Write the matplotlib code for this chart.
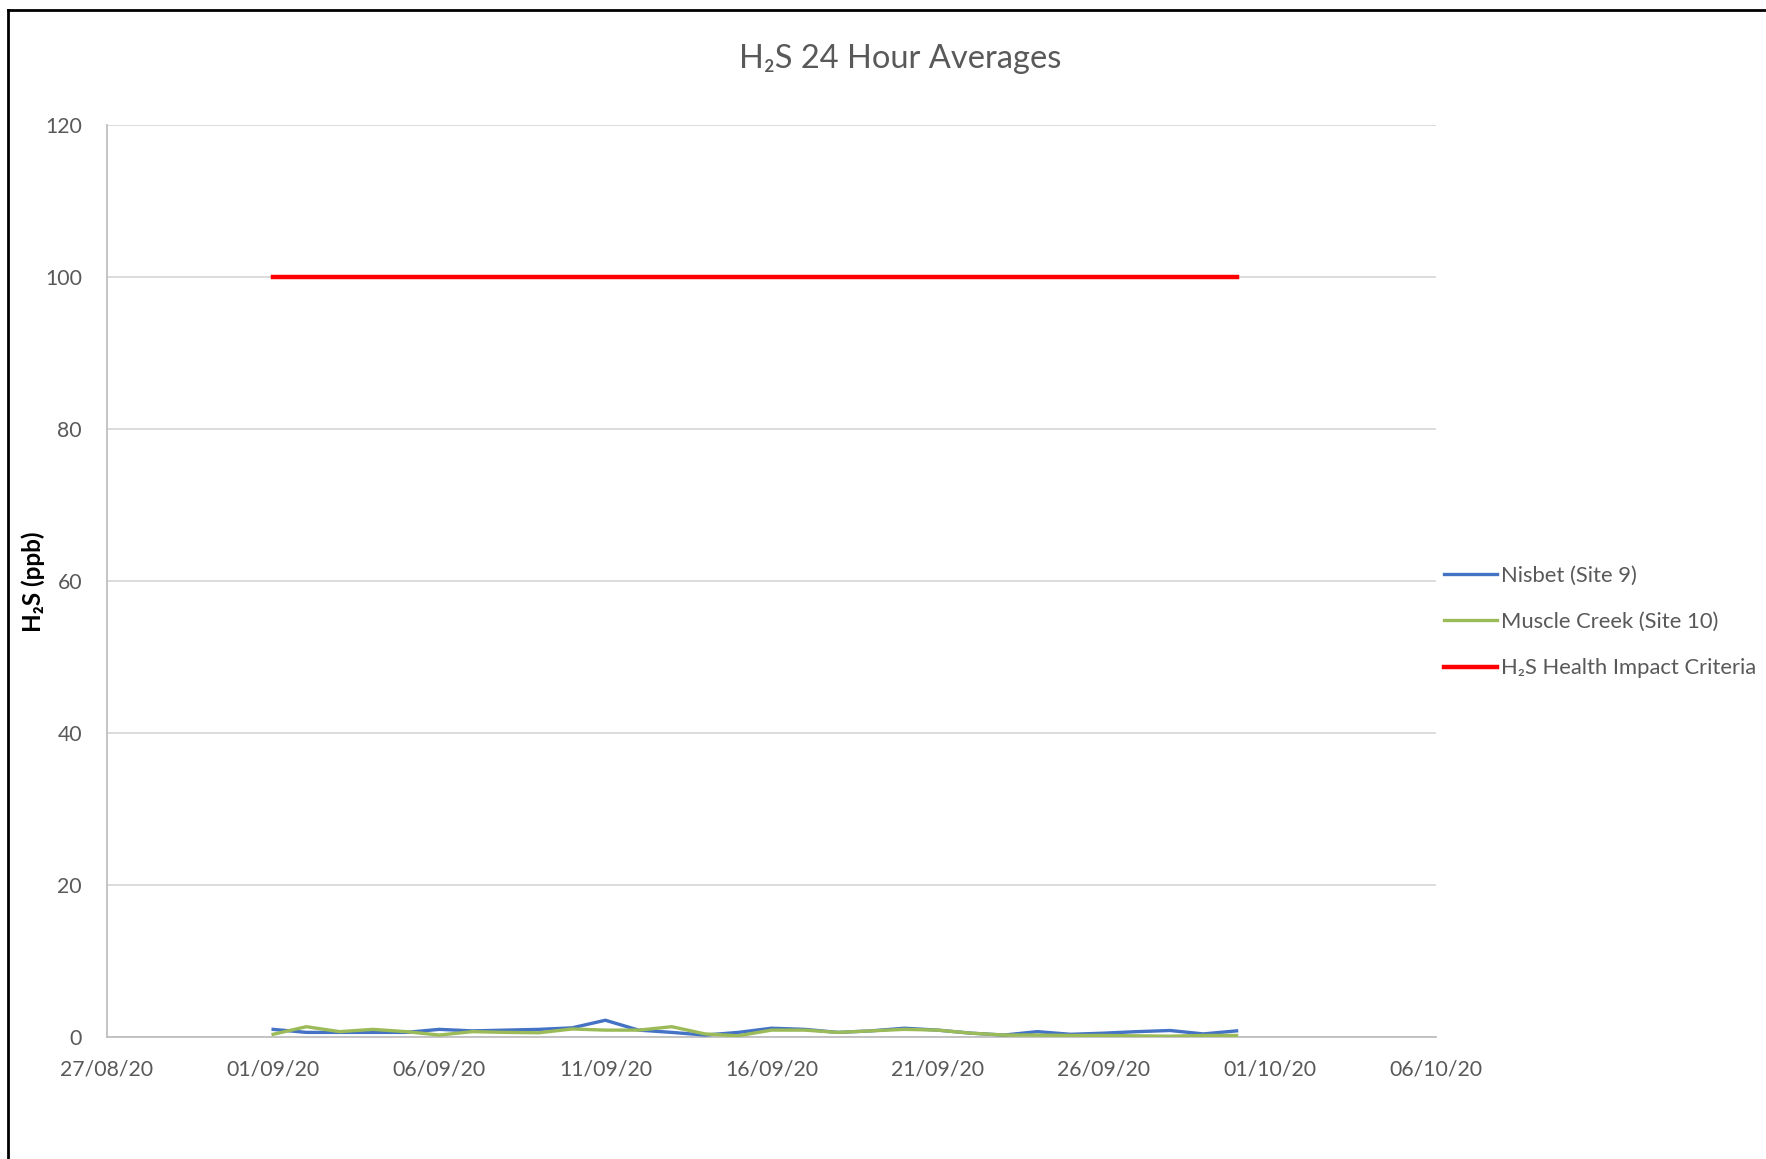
import numpy as np
import pandas as pd
import matplotlib
matplotlib.use("Agg")
import matplotlib.pyplot as plt
import matplotlib.dates as mdates
from matplotlib.lines import Line2D

plt.rcParams['font.family'] = ['Lato', 'DejaVu Sans']

# Tageswerte September 2020
dates = pd.date_range("2020-09-01", "2020-09-30", freq="D")
nisbet = [1.0, 0.6, 0.6, 0.6, 0.6, 1.0, 0.8, 0.9, 1.0, 1.2,
          2.2, 0.9, 0.6, 0.25, 0.6, 1.15, 1.0, 0.6, 0.8, 1.15,
          0.9, 0.5, 0.25, 0.7, 0.35, 0.5, 0.7, 0.85, 0.4, 0.8]
muscle_creek = [0.35, 1.35, 0.7, 1.0, 0.7, 0.25, 0.7, 0.6, 0.55, 1.05,
                0.9, 0.9, 1.35, 0.4, 0.15, 0.9, 0.9, 0.6, 0.8, 1.0,
                0.9, 0.5, 0.25, 0.25, 0.2, 0.2, 0.15, 0.1, 0.2, 0.2]
criteria = [100] * len(dates)

x_start = pd.Timestamp("2020-08-27")
x_end = pd.Timestamp("2020-10-06")
y_ticks = [0, 20, 40, 60, 80, 100, 120]

grey_txt = '#595959'
fig = plt.figure(figsize=(17.66, 11.59), dpi=100)
ax = fig.add_axes([0.0606, 0.1053, 0.8131 - 0.0606, 0.8921 - 0.1053])

ax.plot(dates, nisbet, color='#4472C4', lw=2.4, label='Nisbet (Site 9)', zorder=3)
ax.plot(dates, muscle_creek, color='#9BBB59', lw=2.4, label='Muscle Creek (Site 10)', zorder=3)
ax.plot(dates, criteria, color='#FF0000', lw=3.2, label='H\u2082S Health Impact Criteria', zorder=3)

ax.set_xlim(x_start, x_end)
ax.set_ylim(0, 120)
ax.set_yticks(y_ticks)
ax.set_xticks(pd.date_range(x_start, x_end, freq='5D'))
ax.xaxis.set_major_formatter(mdates.DateFormatter('%d/%m/%y'))
ax.tick_params(axis='both', length=0, labelsize=15.3, labelcolor=grey_txt)
ax.tick_params(axis='y', pad=18)
ax.tick_params(axis='x', pad=16)

ax.grid(True, axis='y', color='#D9D9D9', lw=1.3)
ax.set_axisbelow(True)
for side in ['top', 'right']:
    ax.spines[side].set_visible(False)
for side in ['left', 'bottom']:
    ax.spines[side].set_color('#BFBFBF')
    ax.spines[side].set_linewidth(1.3)

fig.text(0.510, 0.9494, 'H\u2082S 24 Hour Averages', ha='center', va='center',
         fontsize=23.5, color=grey_txt)
fig.text(0.019, 0.498, 'H\u2082S (ppb)', ha='center', va='center', rotation=90,
         fontsize=17.5, fontweight='bold', color='black')

handles, labels = ax.get_legend_handles_labels()
fig.legend(handles, labels, loc='center left', bbox_to_anchor=(1444 / 1766, 1 - 622 / 1159),
           frameon=False, fontsize=15.8, handlelength=2.4, handletextpad=0.2,
           labelspacing=1.2, borderpad=0, borderaxespad=0, labelcolor=grey_txt)

# schwarzer Rahmen oben und links
fig.add_artist(Line2D([8 / 1766, 8 / 1766], [0, 1 - 10 / 1159], transform=fig.transFigure,
                      color='black', lw=2))
fig.add_artist(Line2D([8 / 1766, 1], [1 - 10 / 1159, 1 - 10 / 1159], transform=fig.transFigure,
                      color='black', lw=2))

fig.savefig('out.png', dpi=100)
